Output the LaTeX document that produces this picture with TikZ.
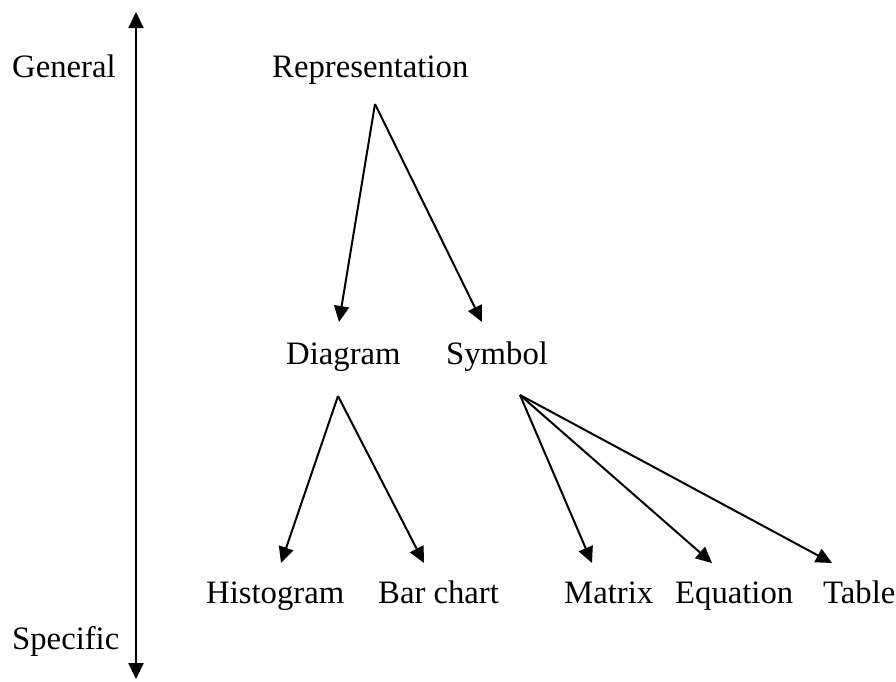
\documentclass[tikz,border=0pt]{standalone}
\usepackage{fontspec}
\setmainfont{Liberation Serif}
\usetikzlibrary{arrows.meta}
\begin{document}
\begin{tikzpicture}[x=1pt,y=-1pt,
  lbl/.style={anchor=base west,inner sep=0pt,font=\fontsize{32.7}{39}\selectfont},
  conn/.style={line width=2pt,-{Triangle[length=16pt,width=15pt]}}]
\useasboundingbox (0,0) rectangle (896,681);
\node[lbl] (gen) at (12,77) {General};
\node[lbl] (spec) at (12,649) {Specific};
\node[lbl] (rep) at (272,77) {Representation};
\node[lbl] (diag) at (286,364) {Diagram};
\node[lbl] (sym) at (446,364) {Symbol};
\node[lbl] (hist) at (206,603) {Histogram};
\node[lbl] (bar) at (378,603) {Bar chart};
\node[lbl] (mat) at (564,603) {Matrix};
\node[lbl] (eq) at (675,603) {Equation};
\node[lbl] (tab) at (823,603) {Table};
\coordinate (axtop) at (136,12);
\coordinate (axbot) at (136,679);
\coordinate (axmid) at (136,340);
\coordinate (repA) at (375,104);
\coordinate (diagT) at (339,322);
\coordinate (symT) at (482,322);
\coordinate (diagA) at (338,396);
\coordinate (histT) at (281,563);
\coordinate (barT) at (424,563);
\coordinate (symA) at (520,395);
\coordinate (matT) at (592,563);
\coordinate (eqT) at (712,563);
\coordinate (tabT) at (832,563);
\draw[conn] (axmid) -- (axtop);
\draw[conn] (axmid) -- (axbot);
\draw[conn] (repA) -- (diagT);
\draw[conn] (repA) -- (symT);
\draw[conn] (diagA) -- (histT);
\draw[conn] (diagA) -- (barT);
\draw[conn] (symA) -- (matT);
\draw[conn] (symA) -- (eqT);
\draw[conn] (symA) -- (tabT);
\end{tikzpicture}
\end{document}
